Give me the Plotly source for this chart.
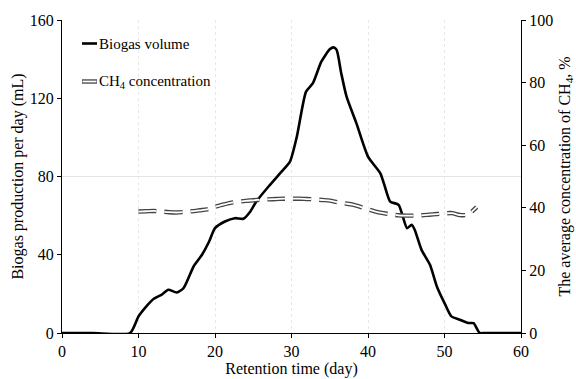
import plotly.graph_objects as go

# Biogas production per day (mL)
bio_days = [0, 4, 8.9, 10, 11, 12, 13, 13.9, 15, 15.9, 17.2, 18.3, 19.2, 20, 21.3, 22.6, 23.7, 24.6, 25.4,
            27, 28.7, 29.8, 30.7, 31.9, 32.8, 33.9, 35, 35.5, 35.9, 36.5, 37.2, 38.5, 40, 41.6, 42.2,
            42.9, 44, 45.1, 45.7, 46.1, 47, 48.1, 49, 50.1, 50.9, 52, 53.1, 53.8, 54.6, 55.3, 60]
bio_vals = [0, 0, 0, 8.5, 13.5, 17.5, 19.5, 22.1, 20.7, 23, 34, 40, 46.5, 53.6, 57, 58.7, 58.4, 62, 67.2,
            74.9, 82.5, 87.6, 100.4, 123.4, 127.7, 138.7, 145, 146, 144.7, 132.8, 120.8, 107, 90.2, 81.7, 74.9,
            67.2, 65.5, 53.6, 55.3, 52.8, 42.5, 34.9, 23.8, 14.5, 8.5, 6.8, 5.1, 5, 0, 0, 0]

# Average CH4 concentration (%)
ch4_days = [10, 11, 12, 13, 14, 15, 16, 17, 18, 19, 20, 21, 22, 23, 24, 25, 26, 27, 28, 29, 30, 31, 32,
            33, 34, 35, 36, 37, 38, 39, 40, 41, 42, 43, 44, 45, 46, 47, 48, 49, 50, 51, 52, 53, 54.2]
ch4_vals = [38.8, 38.9, 39.0, 38.8, 38.6, 38.5, 38.7, 38.9, 39.2, 39.5, 40.3, 41.0, 41.6, 41.9, 42.2, 42.4,
            42.6, 42.7, 42.8, 42.9, 42.9, 42.9, 42.8, 42.7, 42.5, 42.3, 41.8, 41.4, 41.0, 40.3, 39.5, 38.8,
            38.3, 37.9, 37.6, 37.5, 37.5, 37.6, 37.8, 38.0, 38.2, 38.3, 37.7, 37.8, 40.2]

FONT = "Liberation Serif"

fig = go.Figure()
fig.add_trace(go.Scatter(x=ch4_days, y=ch4_vals, yaxis="y2", mode="lines",
                         line=dict(color="#444444", width=4.4, dash="18px,8px", shape="spline", smoothing=0.8),
                         showlegend=False, hoverinfo="skip"))
fig.add_trace(go.Scatter(x=ch4_days, y=ch4_vals, yaxis="y2", mode="lines",
                         line=dict(color="white", width=1.8, dash="18px,8px", shape="spline", smoothing=0.8),
                         showlegend=False, name="CH4 concentration"))
fig.add_trace(go.Scatter(x=bio_days, y=bio_vals, mode="lines",
                         line=dict(color="black", width=2.6, shape="spline", smoothing=0.6),
                         showlegend=False, name="Biogas volume"))

axis_common = dict(showline=True, linecolor="black", linewidth=1, ticks="outside", ticklen=4,
                   tickcolor="black", tickfont=dict(family=FONT, size=16, color="black"),
                   zeroline=False, automargin=False)

fig.update_layout(
    width=576, height=379,
    margin=dict(l=62, r=55, t=20, b=46),
    paper_bgcolor="white", plot_bgcolor="white",
    font=dict(family=FONT, size=16, color="black"),
    xaxis=dict(range=[0, 60], dtick=10, showgrid=True, gridcolor="#e8e8e8", griddash="dot", gridwidth=1,
               title=dict(text="Retention time (day)", font=dict(family=FONT, size=16), standoff=2),
               **axis_common),
    yaxis=dict(range=[0, 160], dtick=40, showgrid=False,
               title=dict(text="Biogas production per day (mL)", font=dict(family=FONT, size=16), standoff=2),
               **axis_common),
    yaxis2=dict(range=[0, 100], dtick=20, showgrid=False, overlaying="y", side="right", anchor="x",
                title=dict(text="The average concentration of CH<sub>4</sub>, %", font=dict(family=FONT, size=16),
                           standoff=6),
                **axis_common),
    shapes=[
        dict(type="line", xref="paper", yref="y", x0=0, x1=1, y0=80, y1=80,
             line=dict(color="#e4e4e4", width=1), layer="below"),
        # legend samples
        dict(type="line", xref="paper", yref="paper", x0=(82 - 62) / 459, x1=(97 - 62) / 459,
             y0=(333 - 43.5) / 313, y1=(333 - 43.5) / 313, line=dict(color="black", width=2.6)),
        dict(type="line", xref="paper", yref="paper", x0=(82 - 62) / 459, x1=(97 - 62) / 459,
             y0=(333 - 81.5) / 313, y1=(333 - 81.5) / 313, line=dict(color="#444444", width=4.4)),
        dict(type="line", xref="paper", yref="paper", x0=(82.5 - 62) / 459, x1=(96.5 - 62) / 459,
             y0=(333 - 81.5) / 313, y1=(333 - 81.5) / 313, line=dict(color="white", width=1.8)),
    ],
    annotations=[
        dict(text="Biogas volume", xref="paper", yref="paper", x=(97 - 62) / 459, y=(333 - 43.5) / 313,
             xanchor="left", yanchor="middle", showarrow=False, font=dict(family=FONT, size=15, color="black")),
        dict(text="CH<sub>4</sub> concentration", xref="paper", yref="paper", x=(97 - 62) / 459,
             y=(333 - 81.5) / 313, xanchor="left", yanchor="middle", showarrow=False,
             font=dict(family=FONT, size=15, color="black")),
    ],
)

fig.write_html("out.html")
